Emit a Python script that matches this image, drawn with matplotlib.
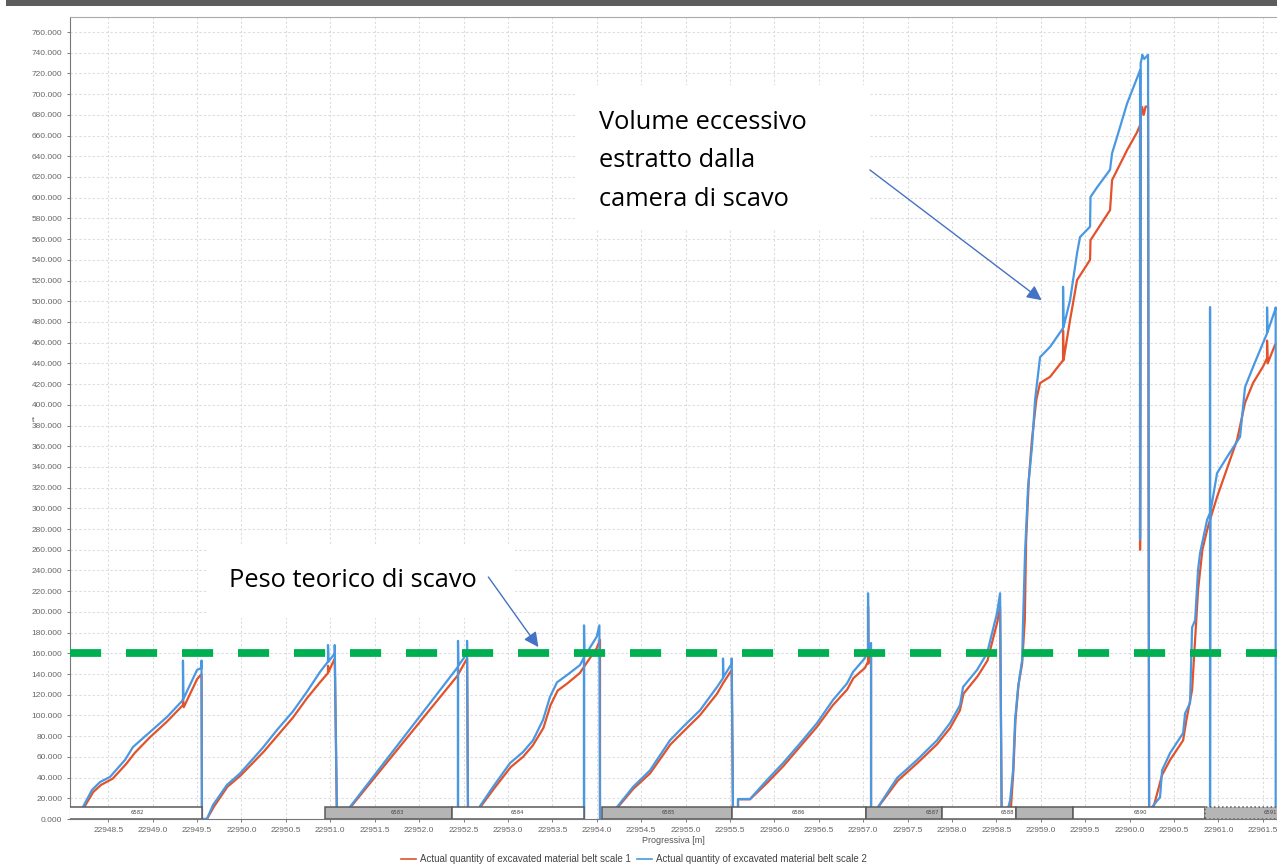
import numpy as np
import matplotlib
matplotlib.use('Agg')
from matplotlib import pyplot as plt
from matplotlib.patches import Rectangle
from matplotlib.lines import Line2D

# belt scale 2 (blue) - cumulative tonnage per ring
blue_x = [22948.17, 22948.215, 22948.316, 22948.407, 22948.519, 22948.688, 22948.778, 22948.970,
          22949.161, 22949.341, 22949.341, 22949.346, 22949.499, 22949.550, 22949.550, 22949.555,
          22949.611, 22949.679, 22949.837, 22949.983, 22950.242, 22950.400, 22950.580, 22950.738,
          22950.884, 22950.974, 22950.974, 22950.980, 22951.050, 22951.050, 22951.075,
          22951.180, 22951.221, 22952.438, 22952.438, 22952.438, 22952.442, 22952.540, 22952.540, 22952.551,
          22952.660, 22952.686, 22952.832, 22953.024, 22953.170, 22953.283, 22953.395, 22953.474,
          22953.553, 22953.666, 22953.812, 22953.857, 22953.857, 22953.857, 22953.862, 22954.000,
          22954.030, 22954.037,
          22954.200, 22954.229, 22954.409, 22954.600, 22954.825, 22954.972, 22955.163, 22955.355,
          22955.422, 22955.422, 22955.426, 22955.520, 22955.520, 22955.535,
          22955.591, 22955.591, 22955.726, 22955.918, 22956.098, 22956.289, 22956.481, 22956.661,
          22956.819, 22956.886, 22957.021, 22957.055, 22957.055, 22957.060, 22957.089, 22957.089,
          22957.150, 22957.168, 22957.382, 22957.607, 22957.832, 22957.979, 22958.091, 22958.125,
          22958.283, 22958.395, 22958.508, 22958.542, 22958.560,
          22958.600, 22958.655, 22958.688, 22958.711, 22958.745, 22958.790, 22958.801, 22958.823,
          22958.857, 22958.902, 22958.936, 22958.970, 22958.992, 22959.105, 22959.251, 22959.251,
          22959.256, 22959.330, 22959.409, 22959.442, 22959.555, 22959.560, 22959.634, 22959.780,
          22959.803, 22959.859, 22959.972, 22960.118, 22960.118, 22960.125, 22960.141, 22960.141,
          22960.165, 22960.208, 22960.220,
          22960.230, 22960.253, 22960.343, 22960.366, 22960.456, 22960.603, 22960.625, 22960.681,
          22960.704, 22960.738, 22960.771, 22960.794, 22960.873, 22960.906, 22960.906, 22960.906,
          22960.910, 22960.985, 22961.098, 22961.244, 22961.300, 22961.360, 22961.436, 22961.548,
          22961.548, 22961.552, 22961.638, 22961.645, 22961.645]
blue_y = [0, 11.6, 28, 35.7, 40.6, 57, 69.5, 84, 98.5, 114.9, 153, 116, 143.9, 146, 153, 0,
          0, 13.5, 33, 44, 69, 86, 104, 123, 142, 152, 168, 152, 160, 168, 0,
          0, 11.6, 147, 0, 172, 148, 160, 172, 0,
          0, 12.5, 31, 54, 64.7, 76, 95.6, 118, 132, 139, 148.7, 156, 0, 187, 157, 176, 187, 0,
          0, 11.6, 31, 47, 76, 89, 105, 127.5, 136, 155, 137, 150, 155, 0,
          0, 19.3, 19.3, 37.7, 54, 73, 92.7, 115, 131, 142, 155.5, 165, 218, 160, 170, 0,
          0, 11.6, 39.6, 57, 76, 92.7, 110, 127.5, 144, 160, 199, 218, 0,
          0, 18, 47, 95.6, 127.5, 153.5, 192, 257, 320.6, 360, 405, 430, 446, 456, 474, 514,
          475, 501, 546.6, 562, 572, 600.7, 610, 627, 643, 658.6, 691, 723, 270, 730, 736, 738,
          734, 738, 0,
          0, 11.6, 21, 47, 63.7, 83, 102, 112, 185, 192, 240.5, 257, 289, 295.5, 494, 0,
          296, 334, 349.6, 369, 417, 430, 446, 469, 494, 470, 491.5, 494, 0]

# belt scale 1 (red)
red_x = [22948.17, 22948.23, 22948.33, 22948.42, 22948.55, 22948.70, 22948.80, 22948.97,
         22949.16, 22949.341, 22949.341, 22949.35, 22949.50, 22949.55, 22949.555,
         22949.611, 22949.69, 22949.84, 22949.99, 22950.25, 22950.40, 22950.58, 22950.74,
         22950.884, 22950.974, 22950.974, 22950.98, 22951.05, 22951.075,
         22951.18, 22951.23, 22952.438, 22952.442, 22952.54, 22952.551,
         22952.66, 22952.69, 22952.84, 22953.03, 22953.17, 22953.28, 22953.40, 22953.48,
         22953.56, 22953.67, 22953.81, 22953.857, 22954.00, 22954.037, 22954.037,
         22954.20, 22954.24, 22954.41, 22954.60, 22954.83, 22954.97, 22955.16, 22955.355,
         22955.422, 22955.52, 22955.535,
         22955.591, 22955.591, 22955.726, 22955.92, 22956.10, 22956.29, 22956.48, 22956.66,
         22956.82, 22956.89, 22957.021, 22957.055, 22957.055, 22957.06, 22957.089, 22957.089,
         22957.15, 22957.17, 22957.39, 22957.61, 22957.83, 22957.98, 22958.09, 22958.13,
         22958.29, 22958.40, 22958.51, 22958.542, 22958.56,
         22958.60, 22958.665, 22958.692, 22958.715, 22958.75, 22958.79, 22958.82, 22958.835,
         22958.865, 22958.90, 22958.95, 22958.992, 22959.105, 22959.251, 22959.251, 22959.256,
         22959.330, 22959.409, 22959.555, 22959.56, 22959.78, 22959.803, 22959.972, 22960.08,
         22960.118, 22960.118, 22960.125, 22960.141, 22960.16, 22960.18, 22960.208, 22960.22,
         22960.23, 22960.27, 22960.366, 22960.456, 22960.603, 22960.64, 22960.704, 22960.738,
         22960.771, 22960.82, 22960.873, 22960.906, 22960.985, 22961.21, 22961.30, 22961.39,
         22961.503, 22961.548, 22961.548, 22961.555, 22961.638]
red_y = [0, 11.6, 26, 33, 39, 53, 64, 79, 94, 110, 116, 108, 135, 140, 0,
         0, 12, 31, 42, 65, 80, 98, 117, 132, 141, 148, 142, 155, 0,
         0, 11.6, 139, 140, 155, 0,
         0, 11.6, 29, 50, 60, 71, 88, 110, 124, 131, 141, 147, 165, 173, 0,
         0, 11.6, 29, 44, 72, 84, 100, 121, 131, 144, 0,
         0, 19, 19, 35, 51, 70, 89, 110, 125, 136, 146, 152, 205, 150, 158, 0,
         0, 11.6, 37, 54, 72, 88, 105, 121, 138, 153, 190, 205, 0,
         0, 11.6, 47, 95.6, 130, 150, 192, 269, 327, 366, 405, 421, 427, 443, 472, 443,
         482, 520.5, 540, 559, 588, 617, 646, 662.5, 670, 260, 676, 687.6, 680, 688, 688, 0,
         0, 11.6, 42.5, 57, 76, 95.6, 124.6, 173, 221, 260, 279, 289, 311, 366, 402, 421,
         437, 445, 462, 440, 458]

# ring bar along the bottom
ring_labels = ['6582', '6583', '6584', '6585', '6586', '6587', '6588', '', '6590', '6591']
ring_start = [22947.90, 22950.94, 22952.37, 22954.06, 22955.524, 22957.033, 22957.889,
              22958.722, 22959.364, 22960.851]
ring_end = [22949.555, 22952.37, 22953.857, 22955.524, 22957.033, 22957.889, 22958.722,
            22959.364, 22960.851, 22962.5]
ring_label_x = [22948.823, 22951.75, 22953.102, 22954.802, 22956.266, 22957.775, 22958.620,
                22959.04, 22960.118, 22961.581]
ring_grey = [False, True, False, True, False, True, False, True, False, True]
ring_height = 11.6

theoretical_weight = 160

W, H = 1277, 865
fig = plt.figure(figsize=(W / 100, H / 100), dpi=100)
ax = fig.add_axes([70 / W, 1 - 819 / H, 1 - 70 / W, (819 - 17) / H])

blue = '#4a98e2'
red = '#e2522b'
ax.plot(red_x, red_y, color=red, lw=1.6, zorder=3)
ax.plot(blue_x, blue_y, color=blue, lw=1.6, zorder=4)

for s, e, g in zip(ring_start, ring_end, ring_grey):
    ls = ':' if e > 22962 else '-'
    ax.add_patch(Rectangle((s, 0), e - s, ring_height, facecolor='#b5b5b5' if g else 'white',
                           edgecolor='#5a5a5a', lw=1.1, ls=ls, zorder=5))
for lx, lab in zip(ring_label_x, ring_labels):
    ax.text(lx, ring_height / 2, lab, fontsize=3.8, color='#444', ha='center', va='center',
            zorder=6, clip_on=True)

ax.set_xlim(22948.069, 22961.66)
ax.set_ylim(0, 774.5)
ax.set_xticks(np.arange(22948.5, 22962, 0.5))
ax.xaxis.set_major_formatter(matplotlib.ticker.FormatStrFormatter('%.1f'))
ax.set_yticks(np.arange(0, 761, 20))
ax.yaxis.set_major_formatter(matplotlib.ticker.FormatStrFormatter('%.3f'))
ax.tick_params(labelsize=6, colors='#666', length=2.5, width=0.6, pad=3)
for lab in ax.get_xticklabels() + ax.get_yticklabels():
    lab.set_family('Liberation Sans')
ax.grid(True, color='#dcdcdc', lw=0.8, ls=(0, (2, 2)), zorder=0)
ax.set_axisbelow(True)
ax.spines['right'].set_visible(False)
ax.spines['top'].set_color('#aaaaaa')
ax.spines['left'].set_color('#777777')
ax.spines['bottom'].set_color('#777777')
ax.set_xlabel('Progressiva [m]', fontsize=6.5, color='#555', family='Liberation Sans', labelpad=2)
fig.text(33 / W, 1 - 420 / H, 't', fontsize=6, color='#555', family='Liberation Sans',
         ha='center', va='center')

# theoretical excavation weight
ax.axhline(theoretical_weight, color='#00b050', lw=5.6, dashes=(4.0, 3.2),
           solid_capstyle='butt', dash_capstyle='butt', zorder=7)

# white boxes pasted over the chart for the notes
ax.add_patch(Rectangle((22949.614, 194), 3.463, 70.6, facecolor='white', edgecolor='none', zorder=1))
ax.add_patch(Rectangle((22953.777, 568.8), 3.299, 140, facecolor='white', edgecolor='none', zorder=1))

note_font = dict(family='Open Sans', fontsize=18.3, color='black', va='baseline', ha='left', zorder=8)
ax.text(22949.859, 224, 'Peso teorico di scavo', **note_font)
ax.text(22954.024, 666.7, 'Volume eccessivo', **note_font)
ax.text(22954.024, 629.6, 'estratto dalla', **note_font)
ax.text(22954.024, 591.9, 'camera di scavo', **note_font)

arrow = dict(arrowstyle='-|>', color='#4472c4', lw=1.0, mutation_scale=22, shrinkA=0, shrinkB=0)
ax.annotate('', xy=(22953.343, 166), xytext=(22952.78, 233.7), arrowprops=arrow, zorder=9)
ax.annotate('', xy=(22959.01, 501), xytext=(22957.076, 626.8), arrowprops=arrow, zorder=9)

handles = [Line2D([], [], color=red, lw=1.2), Line2D([], [], color=blue, lw=1.2)]
fig.legend(handles, ['Actual quantity of excavated material belt scale 1',
                     'Actual quantity of excavated material belt scale 2'],
           loc='center', bbox_to_anchor=(634 / W, 1 - 859 / H), ncol=2, frameon=False,
           prop={'family': 'Liberation Sans', 'size': 7}, handlelength=1.6,
           handletextpad=0.4, columnspacing=0.6, labelcolor='#444')

# dark bar at the top of the screenshot
fig.patches.append(Rectangle((6 / W, 1 - 6 / H), 1, 6 / H, transform=fig.transFigure,
                             facecolor='#5c5c5c', edgecolor='none'))

plt.savefig('out.png', dpi=100)
plt.close()
